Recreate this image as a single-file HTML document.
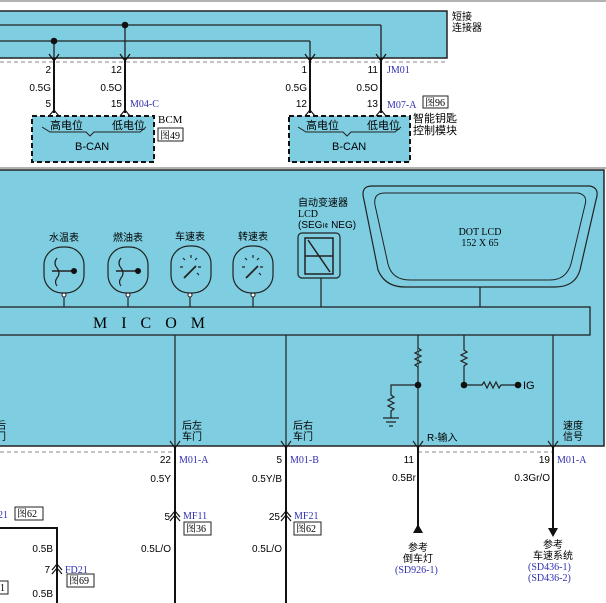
<!DOCTYPE html>
<html><head><meta charset="utf-8"><style>
body{margin:0;background:#fff}
svg{display:block;font-family:"Liberation Sans","Noto Sans CJK SC",sans-serif}
.s{font-family:"Liberation Serif","Noto Serif CJK SC",serif}
.b{fill:#2f2fb0}
</style></head><body>
<svg width="606" height="603" viewBox="0 0 606 603" xmlns="http://www.w3.org/2000/svg" font-size="10">
<line x1="0" y1="1" x2="606" y2="1" stroke="#999" stroke-width="1.5"/>
<!-- top connector -->
<rect x="-2" y="11" width="449" height="47" fill="#7ecde0" stroke="#222" stroke-width="1.5"/>
<g stroke="#222" stroke-width="1.3" fill="none">
<line x1="0" y1="25" x2="381" y2="25"/><line x1="381" y1="25" x2="381" y2="58"/>
<line x1="0" y1="41" x2="310" y2="41"/><line x1="310" y1="41" x2="310" y2="58"/>
<line x1="54" y1="41" x2="54" y2="58"/><line x1="125" y1="25" x2="125" y2="58"/>
</g>
<circle cx="54" cy="41" r="3.3" fill="#111"/><circle cx="125" cy="25" r="3.3" fill="#111"/>
<line x1="0" y1="62" x2="447" y2="62" stroke="#888" stroke-dasharray="4,3"/>
<g stroke="#111" stroke-width="2"><line x1="54" y1="58" x2="54" y2="113"/><line x1="125" y1="58" x2="125" y2="113"/><line x1="310" y1="58" x2="310" y2="113"/><line x1="381" y1="58" x2="381" y2="113"/></g>
<g stroke="#111" stroke-width="1.2" fill="none">
<path d="M49,54 L54,61 L59,54"/><path d="M120,54 L125,61 L130,54"/><path d="M305,54 L310,61 L315,54"/><path d="M376,54 L381,61 L386,54"/>
<path d="M49,116 L54,110 L59,116"/><path d="M120,116 L125,110 L130,116"/><path d="M305,116 L310,110 L315,116"/><path d="M376,116 L381,110 L386,116"/>
</g>
<g font-size="10" text-anchor="end">
<text x="51" y="73">2</text><text x="51" y="91">0.5G</text><text x="51" y="107">5</text>
<text x="122" y="73">12</text><text x="122" y="91">0.5O</text><text x="122" y="107">15</text>
<text x="307" y="73">1</text><text x="307" y="91">0.5G</text><text x="307" y="107">12</text>
<text x="378" y="73">11</text><text x="378" y="91">0.5O</text><text x="378" y="107">13</text>
</g>
<text x="130" y="107" class="s b">M04-C</text><text x="387" y="73" class="s b">JM01</text><text x="387" y="108" class="s b">M07-A</text>
<text x="452" y="20">短接</text><text x="452" y="31">连接器</text>
<rect x="423" y="96" width="25" height="12" fill="#fff" stroke="#222"/><text x="425" y="106" class="s">图96</text>
<!-- BCM box -->
<rect x="32" y="116" width="122" height="46" fill="#7ecde0" stroke="#111" stroke-width="2" stroke-dasharray="5,3"/>
<rect x="289" y="116" width="121" height="46" fill="#7ecde0" stroke="#111" stroke-width="2" stroke-dasharray="5,3"/>
<g font-size="11"><text x="50" y="129">高电位</text><text x="112" y="129">低电位</text><text x="75" y="150">B-CAN</text>
<text x="306" y="129">高电位</text><text x="367" y="129">低电位</text><text x="332" y="150">B-CAN</text></g>
<path d="M42,127 L50,132 L86,132 L90,136 L94,132 L140,132 L146,127" fill="none" stroke="#222"/>
<path d="M298,127 L306,132 L343,132 L347,136 L351,132 L395,132 L401,127" fill="none" stroke="#222"/>
<text x="158" y="123" class="s" font-size="11">BCM</text>
<rect x="158" y="128" width="25" height="13" fill="#fff" stroke="#222"/><text x="160" y="139" class="s">图49</text>
<text x="413" y="122" font-size="11">智能钥匙</text><text x="413" y="134" font-size="11">控制模块</text>
<line x1="0" y1="168" x2="606" y2="168" stroke="#999" stroke-width="1.5"/>
<!-- main box -->
<rect x="-2" y="170" width="606" height="276" fill="#7ecde0" stroke="#222" stroke-width="1.5"/>
<rect x="-2" y="307" width="592" height="28" fill="#7ecde0" stroke="#222" stroke-width="1.3"/>
<text x="93" y="328" class="s" font-size="16" letter-spacing="14">MICOM</text>
<!-- gauges -->
<g font-size="10" text-anchor="middle"><text x="64" y="241">水温表</text><text x="128" y="241">燃油表</text><text x="190" y="240">车速表</text><text x="253" y="240">转速表</text></g>
<g fill="none" stroke="#222" stroke-width="1.2">
<rect x="44" y="247" width="40" height="46" rx="18"/><rect x="108" y="247" width="40" height="46" rx="18"/>
<rect x="171" y="246" width="40" height="47" rx="18"/><rect x="233" y="246" width="40" height="47" rx="18"/>
<line x1="64" y1="297" x2="64" y2="307"/><line x1="128" y1="297" x2="128" y2="307"/><line x1="190" y1="297" x2="190" y2="307"/><line x1="253" y1="297" x2="253" y2="307"/>
<path d="M57,258 q-4,5 0,10 q4,5 0,10 q-3,4 0,8"/><path d="M121,258 q-4,5 0,10 q4,5 0,10 q-3,4 0,8"/>
<line x1="52" y1="271" x2="74" y2="271" stroke-width="1.6"/><line x1="116" y1="271" x2="138" y2="271" stroke-width="1.6"/>
<line x1="184" y1="278" x2="196" y2="266" stroke-width="1.8"/><line x1="246" y1="278" x2="258" y2="266" stroke-width="1.8"/>
<path d="M191,255v3M180,267h3M198,267h3M183,258l2,2M197,258l-2,2M199,275l-2,-2 M253,255v3M242,267h3M260,267h3M245,258l2,2M259,258l-2,2M261,275l-2,-2"/>
</g>
<circle cx="74" cy="271" r="3" fill="#111"/><circle cx="138" cy="271" r="3" fill="#111"/>
<g fill="#fff" stroke="#222"><circle cx="64" cy="295" r="2"/><circle cx="128" cy="295" r="2"/><circle cx="190" cy="295" r="2"/><circle cx="253" cy="295" r="2"/></g>
<!-- seg lcd -->
<text x="298" y="206">自动变速器</text><text x="298" y="217" class="s">LCD</text><text x="298" y="228">(SEG<tspan font-size="7">I¢</tspan> NEG)</text>
<rect x="298" y="233" width="42" height="45" rx="4" fill="none" stroke="#222" stroke-width="1.2"/>
<path d="M305,238h28v36h-28z M305,256h28 M308,240l22,32" fill="none" stroke="#222" stroke-width="1.5"/>
<line x1="321" y1="278" x2="321" y2="307" stroke="#222" stroke-width="1.2"/>
<!-- dot lcd -->
<path d="M372,186 L590,186 Q600,188 596,200 L580,270 Q575,287 555,287 L405,287 Q385,287 378,270 L364,200 Q360,186 372,186 Z" fill="none" stroke="#222" stroke-width="1.2"/>
<path d="M385,193 L578,193 Q588,195 585,205 L571,264 Q566,280 550,280 L410,280 Q392,280 388,264 L375,205 Q373,193 385,193 Z" fill="none" stroke="#222" stroke-width="1"/>
<text x="480" y="235" class="s" font-size="10" text-anchor="middle">DOT LCD</text><text x="480" y="246" class="s" font-size="10" text-anchor="middle">152 X 65</text>
<line x1="480" y1="287" x2="480" y2="307" stroke="#222" stroke-width="1.2"/>
<!-- lines below micom -->
<g stroke="#222" stroke-width="1.2" fill="none">
<line x1="175" y1="335" x2="175" y2="446"/><line x1="286" y1="335" x2="286" y2="446"/>
<line x1="418" y1="335" x2="418" y2="446"/><line x1="553" y1="335" x2="553" y2="446"/>
<path d="M464,335 V350 l3,2 -6,3 6,3 -6,3 6,3 -3,2 V385 H482 l2,-3 3,6 3,-6 3,6 3,-6 3,6 2,-3 H518"/>
<path d="M418,348 l3,2 -6,3 6,3 -6,3 6,3 -6,3 3,2" fill="#7ecde0"/>
<path d="M418,385 H391 V395 l3,2 -6,3 6,3 -6,3 6,3 -3,2 V418"/>
<path d="M383,418h16M386,422h10M389,426h4"/>
<path d="M170,441 L175,448 L180,441 M281,441 L286,448 L291,441 M413,441 L418,448 L423,441 M548,441 L553,448 L558,441"/>
</g>
<g fill="#111"><circle cx="418" cy="385" r="3.3"/><circle cx="464" cy="385" r="3.3"/><circle cx="518" cy="385" r="3.3"/></g>
<text x="523" y="389" font-size="11">IG</text>
<g font-size="10"><text x="182" y="429">后左</text><text x="182" y="440">车门</text><text x="293" y="429">后右</text><text x="293" y="440">车门</text>
<text x="-4" y="429">后</text><text x="-4" y="440">门</text><text x="427" y="441">R-输入</text><text x="563" y="429">速度</text><text x="563" y="440">信号</text></g>
<!-- below -->
<g stroke="#888" stroke-dasharray="4,3"><line x1="0" y1="452" x2="175" y2="452"/><line x1="418" y1="452" x2="553" y2="452"/></g>
<g stroke="#111" stroke-width="2"><line x1="175" y1="446" x2="175" y2="603"/><line x1="286" y1="446" x2="286" y2="603"/><line x1="418" y1="446" x2="418" y2="530"/><line x1="553" y1="446" x2="553" y2="528"/>
<path d="M0,528 H57 V603" fill="none"/></g>
<path d="M413,533 L418,524 L423,533Z M548,528 L553,537 L558,528Z" fill="#111"/>
<g stroke="#111" stroke-width="1.2" fill="none"><path d="M170,517 L175,511 L180,517 M170,521 L175,515 L180,521 M281,517 L286,511 L291,517 M281,521 L286,515 L291,521 M52,570 L57,564 L62,570 M52,574 L57,568 L62,574"/></g>
<g text-anchor="end"><text x="171" y="463">22</text><text x="171" y="482">0.5Y</text><text x="170" y="520">5</text><text x="171" y="552">0.5L/O</text>
<text x="282" y="463">5</text><text x="282" y="482">0.5Y/B</text><text x="280" y="520">25</text><text x="282" y="552">0.5L/O</text>
<text x="414" y="463">11</text><text x="416" y="481">0.5Br</text><text x="550" y="463">19</text><text x="550" y="481">0.3Gr/O</text>
<text x="53" y="552">0.5B</text><text x="50" y="573">7</text><text x="53" y="597">0.5B</text></g>
<g class="s b"><text x="179" y="463" class="s b">M01-A</text><text x="290" y="463" class="s b">M01-B</text><text x="557" y="463" class="s b">M01-A</text>
<text x="183" y="519" class="s b">MF11</text><text x="294" y="519" class="s b">MF21</text><text x="65" y="573" class="s b">FD21</text><text x="-2" y="518" class="s b">21</text>
<text x="395" y="573" class="s b">(SD926-1)</text><text x="528" y="570" class="s b">(SD436-1)</text><text x="528" y="581" class="s b">(SD436-2)</text></g>
<g fill="#fff" stroke="#222"><rect x="184" y="522" width="27" height="13"/><rect x="294" y="522" width="27" height="13"/><rect x="67" y="574" width="27" height="13"/><rect x="15" y="507" width="28" height="13"/><rect x="-2" y="581" width="10" height="13"/></g>
<g class="s"><text x="186" y="532" class="s">图36</text><text x="296" y="532" class="s">图62</text><text x="69" y="584" class="s">图69</text><text x="17" y="517" class="s">图62</text><text x="0" y="591" class="s">1</text></g>
<g text-anchor="middle"><text x="418" y="551">参考</text><text x="418" y="562">倒车灯</text><text x="553" y="548">参考</text><text x="553" y="559">车速系统</text></g>
</svg>
</body></html>
